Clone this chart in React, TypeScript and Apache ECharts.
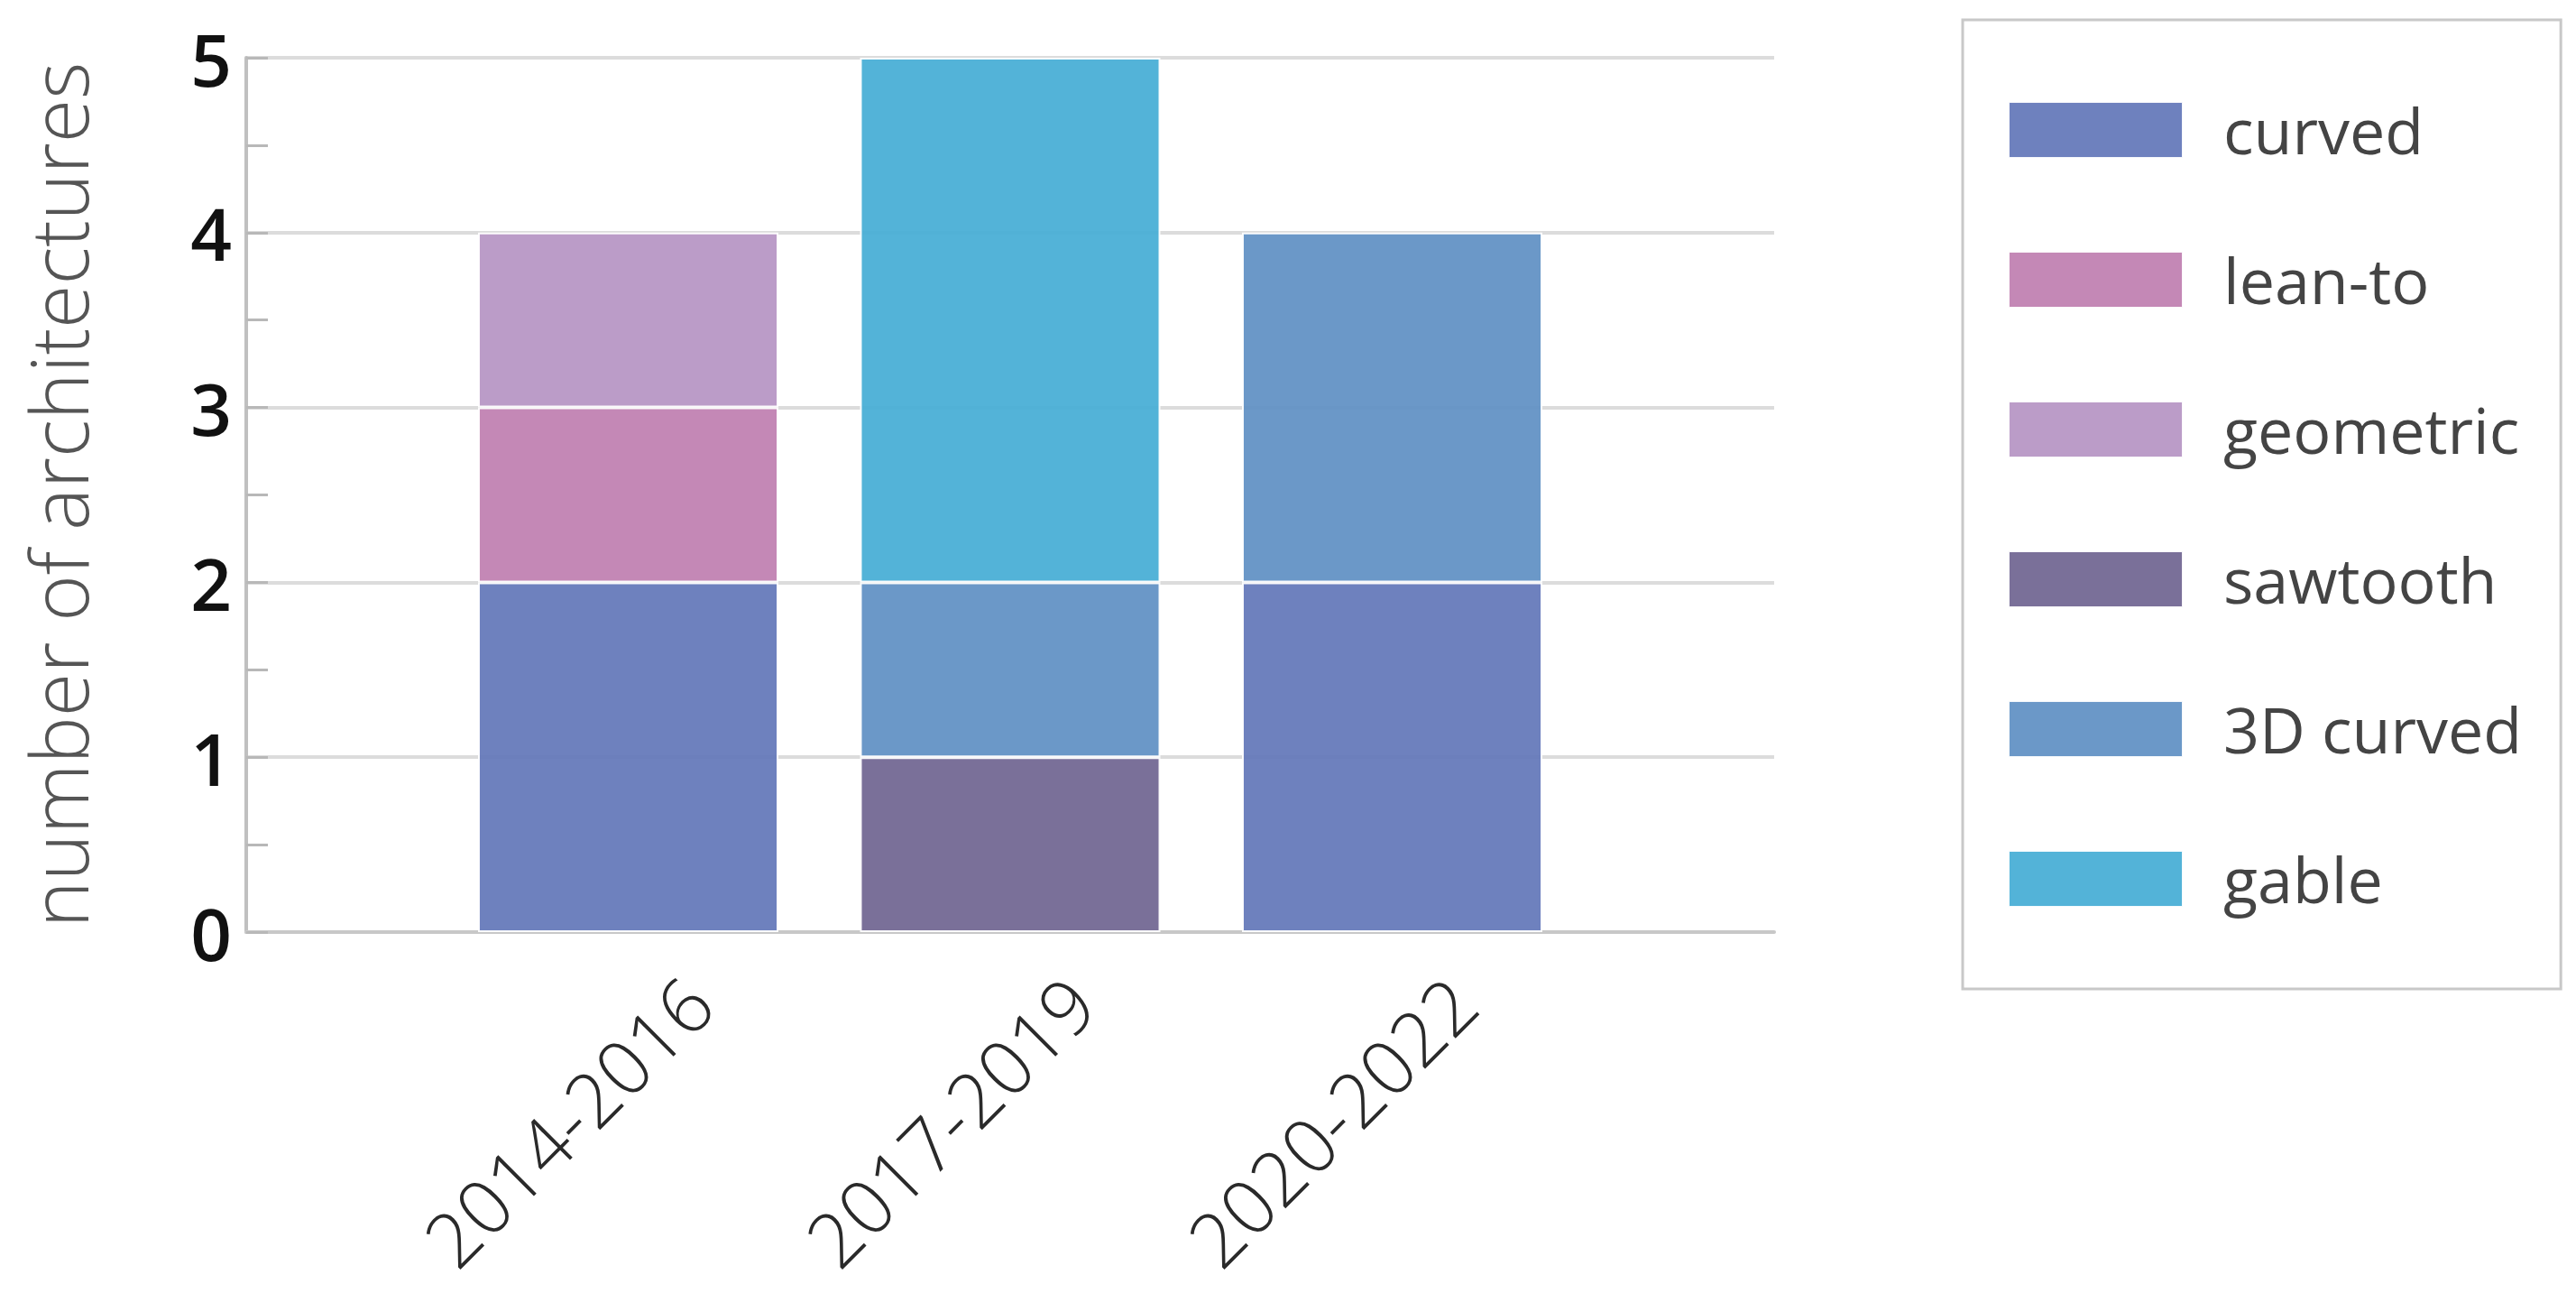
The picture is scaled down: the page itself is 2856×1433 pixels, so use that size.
import React, { useEffect, useRef } from "react";
import * as echarts from "echarts";

const categories = ["2014-2016", "2017-2019", "2020-2022"];
const seriesNames = ["curved", "lean-to", "geometric", "sawtooth", "3D curved", "gable"];
const curved = [2, null, 2];
const leanTo = [1, null, null];
const geometric = [1, null, null];
const sawtooth = [null, 1, null];
const curved3D = [null, 1, 2];
const gable = [null, 3, null];
const seriesValues = [curved, leanTo, geometric, sawtooth, curved3D, gable];
const colors = ["#6377b9", "#bf7fb0", "#b694c4", "#706591", "#6090c4", "#46add5"];
const yTicks = [0, 1, 2, 3, 4, 5];

export default function App() {
  const ref = useRef<HTMLDivElement>(null);
  useEffect(() => {
    if (!ref.current) return;
    const chart = echarts.init(ref.current, null, { renderer: "svg" });
    const font = "'Open Sans', 'DejaVu Sans', sans-serif";
    const axisData = ["", ...categories, ""];
    chart.setOption({
      animation: false,
      backgroundColor: "#ffffff",
      grid: [
        { left: 273, right: 889, top: 64, bottom: 400, containLabel: false, outerBoundsMode: "none" },
        { left: 351, right: 811, top: 64, bottom: 400, containLabel: false, outerBoundsMode: "none" },
      ],
      legend: {
        orient: "vertical",
        left: 2176,
        top: 22,
        padding: [87, 43, 87, 50],
        itemWidth: 193,
        itemHeight: 62,
        itemGap: 96,
        icon: "rect",
        borderColor: "#c8c8c8",
        borderWidth: 3,
        data: seriesNames,
        textStyle: {
          fontFamily: font,
          fontWeight: 400,
          fontSize: 70,
          color: "#444444",
          padding: [0, 0, 0, 40],
        },
      },
      xAxis: [
        {
          type: "category",
          gridIndex: 0,
          boundaryGap: false,
          data: axisData,
          axisTick: { show: false },
          axisLine: { show: true, lineStyle: { color: "#c8c8c8", width: 4 } },
          splitLine: { show: false },
          axisLabel: { show: false },
        },
        {
          type: "category",
          gridIndex: 1,
          boundaryGap: false,
          data: axisData,
          axisTick: { show: false },
          axisLine: { show: false },
          splitLine: { show: false },
          axisLabel: {
            rotate: 45,
            interval: 0,
            margin: 64,
            fontFamily: font,
            fontWeight: 300,
            fontSize: 84,
            color: "#2a2a2a",
          },
        },
      ],
      yAxis: [
        {
          type: "value",
          gridIndex: 0,
          min: 0,
          max: 5,
          interval: 1,
          name: "number of architectures",
          nameLocation: "middle",
          nameGap: 165,
          nameTextStyle: { fontFamily: font, fontWeight: 300, fontSize: 88, color: "#555555" },
          axisLine: { show: true, lineStyle: { color: "#c0c0c0", width: 4 } },
          axisTick: { show: true, inside: true, length: 24, lineStyle: { color: "#b8b8b8", width: 3 } },
          minorTick: { show: true, splitNumber: 2, length: 24, lineStyle: { color: "#b8b8b8", width: 3 } },
          splitLine: { show: true, lineStyle: { color: "#dcdcdc", width: 4 } },
          axisLabel: {
            margin: 16,
            fontFamily: font,
            fontWeight: 600,
            fontSize: 80,
            color: "#111111",
            formatter: (v: number) => (yTicks.includes(v) ? String(v) : ""),
          },
        },
        {
          type: "value",
          gridIndex: 1,
          min: 0,
          max: 5,
          interval: 1,
          show: false,
          splitLine: { show: false },
        },
      ],
      series: seriesNames.map((name, i) => ({
        name,
        type: "bar",
        stack: "total",
        xAxisIndex: 0,
        yAxisIndex: 0,
        barWidth: 333,
        data: [null, ...seriesValues[i], null],
        itemStyle: { color: colors[i], opacity: 0.93, borderColor: "#ffffff", borderWidth: 2 },
      })),
    });
    return () => chart.dispose();
  }, []);
  return (
    <div
      ref={ref}
      style={{ position: "fixed", left: 0, top: 0, width: 2856, height: 1433 }}
    />
  );
}
